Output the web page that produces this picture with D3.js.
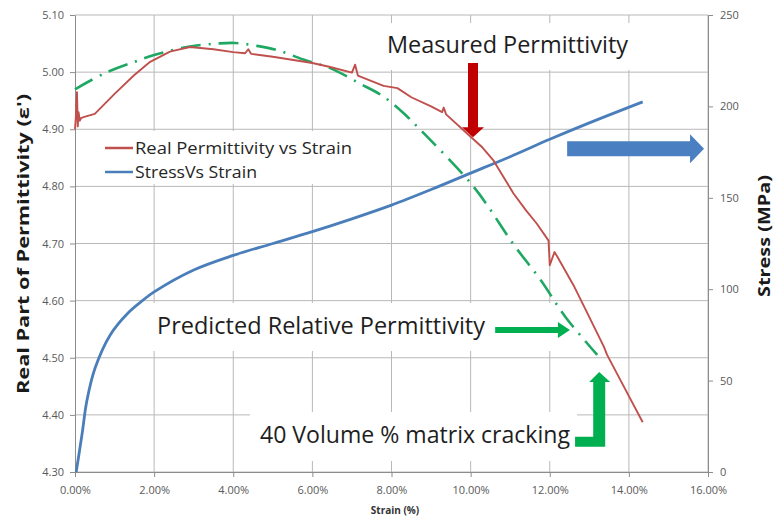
<!DOCTYPE html>
<html>
<head>
<meta charset="utf-8">
<script src="https://cdn.jsdelivr.net/npm/d3@7"></script>
<style>
  body { margin: 0; background: #fff; }
  svg { display: block; font-family: "Open Sans", sans-serif; }
</style>
</head>
<body>
<div id="chart"></div>
<script>
// measured permittivity (left axis)
const permStrain = [0, 0.02, 0.05, 0.07, 0.09, 0.12, 0.16, 0.3, 0.5, 1.0, 1.5, 1.9, 2.4, 2.9, 3.5, 4.0, 4.3, 4.38, 4.45, 5.0, 6.0, 6.45, 7.0, 7.08, 7.15, 7.8, 8.15, 8.5, 9.0, 9.28, 9.32, 9.38, 10.0, 10.3, 10.57, 10.8, 11.08, 11.4, 11.67, 11.97, 12.0, 12.12, 12.2, 12.6, 13.0, 13.37, 13.45, 13.9, 14.35];
const permValue = [4.90, 4.92, 4.965, 4.905, 4.93, 4.915, 4.92, 4.923, 4.927, 4.962, 4.995, 5.018, 5.036, 5.044, 5.040, 5.035, 5.033, 5.040, 5.032, 5.027, 5.016, 5.009, 4.999, 5.013, 4.994, 4.976, 4.972, 4.956, 4.940, 4.930, 4.938, 4.926, 4.887, 4.868, 4.846, 4.820, 4.788, 4.758, 4.735, 4.705, 4.662, 4.685, 4.676, 4.627, 4.571, 4.519, 4.505, 4.446, 4.387];

// predicted relative permittivity (left axis)
const predStrain = [0, 0.75, 1.5, 2, 2.9, 3.6, 4.05, 4.6, 5.14, 5.77, 6.45, 7.2, 7.8, 8.4, 8.73, 10.08, 11.1, 11.77, 12.4, 13.2];
const predValue = [4.97, 4.998, 5.018, 5.03, 5.045, 5.05, 5.051, 5.046, 5.038, 5.022, 5.007, 4.98, 4.957, 4.922, 4.899, 4.799, 4.697, 4.636, 4.571, 4.505];

// stress (right axis)
const stressStrain = [0.03, 0.18, 0.3, 0.51, 0.89, 1.34, 1.72, 2, 3, 4, 5, 6, 7, 8, 9, 10, 11, 12, 13, 14.35];
const stressValue = [0, 21, 39, 57, 75, 87, 94, 98.5, 110.5, 118.5, 125, 131.5, 138.5, 146, 154.5, 163.5, 172.5, 182, 191, 202.5];

const strainTicks = [0, 2, 4, 6, 8, 10, 12, 14, 16];
const permTicks = [4.3, 4.4, 4.5, 4.6, 4.7, 4.8, 4.9, 5.0, 5.1];
const stressTicks = [0, 50, 100, 150, 200, 250];
const legendLabels = ["Real Permittivity vs Strain", "StressVs Strain"];

const W = 780, H = 526;
const plot = { left: 75, right: 708, top: 15, bottom: 472 };

const svg = d3.select('#chart').append('svg')
  .attr('width', W)
  .attr('height', H);

const x = d3.scaleLinear().domain([0, 16]).range([plot.left, plot.right]);
const y = d3.scaleLinear().domain([4.3, 5.1]).range([plot.bottom, plot.top]);
const yS = d3.scaleLinear().domain([0, 250]).range([plot.bottom, plot.top]);

const gridColor = '#b8b8b8';
const axisColor = '#8c8c8c';
const labelColor = '#595959';

// gridlines
svg.append('g')
  .selectAll('line')
  .data(permTicks)
  .join('line')
  .attr('x1', plot.left).attr('x2', plot.right)
  .attr('y1', d => y(d)).attr('y2', d => y(d))
  .attr('stroke', gridColor).attr('stroke-width', 1);

svg.append('g')
  .selectAll('line')
  .data(strainTicks.slice(1))
  .join('line')
  .attr('x1', d => x(d)).attr('x2', d => x(d))
  .attr('y1', plot.top).attr('y2', plot.bottom)
  .attr('stroke', gridColor).attr('stroke-width', 1);

// axes
const styleAxis = g => {
  g.select('.domain').attr('stroke', axisColor);
  g.selectAll('.tick line').attr('stroke', axisColor);
  g.selectAll('.tick text')
    .attr('fill', labelColor)
    .attr('font-size', 11)
    .attr('font-family', '"Open Sans", sans-serif');
};

svg.append('g')
  .attr('transform', `translate(0, ${plot.bottom})`)
  .call(d3.axisBottom(x).tickValues(strainTicks).tickSize(5).tickSizeOuter(0)
    .tickFormat(d => d.toFixed(2) + '%'))
  .call(styleAxis)
  .call(g => g.selectAll('.tick text').attr('dy', '1.3em'));

svg.append('g')
  .attr('transform', `translate(${plot.left}, 0)`)
  .call(d3.axisLeft(y).tickValues(permTicks).tickSize(5).tickSizeOuter(0)
    .tickFormat(d3.format('.2f')))
  .call(styleAxis)
  .call(g => g.selectAll('.tick text').attr('x', -11));

svg.append('g')
  .attr('transform', `translate(${plot.right}, 0)`)
  .call(d3.axisRight(yS).tickValues(stressTicks).tickSize(5).tickSizeOuter(0))
  .call(styleAxis)
  .call(g => g.selectAll('.tick text').attr('x', 12));

// axis titles
svg.append('text')
  .attr('transform', `translate(29, 244) rotate(-90)`)
  .attr('text-anchor', 'middle')
  .attr('font-size', 16)
  .attr('font-weight', 'bold')
  .attr('fill', '#1a1a1a')
  .attr('textLength', 300)
  .attr('lengthAdjust', 'spacingAndGlyphs')
  .text("Real Part of Permittivity (ε')");

svg.append('text')
  .attr('transform', `translate(770, 236) rotate(-90)`)
  .attr('text-anchor', 'middle')
  .attr('font-size', 16)
  .attr('font-weight', 'bold')
  .attr('fill', '#1a1a1a')
  .attr('textLength', 122)
  .attr('lengthAdjust', 'spacingAndGlyphs')
  .text('Stress (MPa)');

svg.append('text')
  .attr('x', 395)
  .attr('y', 514)
  .attr('text-anchor', 'middle')
  .attr('font-size', 10)
  .attr('font-weight', 'bold')
  .attr('fill', '#333')
  .text('Strain (%)');

// series
const permData = permStrain.map((s, i) => [s, permValue[i]]);
const predData = predStrain.map((s, i) => [s, predValue[i]]);
const stressData = stressStrain.map((s, i) => [s, stressValue[i]]);

const permLine = d3.line().x(d => x(d[0])).y(d => y(d[1]));
const predLine = d3.line().curve(d3.curveCatmullRom).x(d => x(d[0])).y(d => y(d[1]));
const stressLine = d3.line().curve(d3.curveCatmullRom.alpha(0.5)).x(d => x(d[0])).y(d => yS(d[1]));

svg.append('path')
  .datum(stressData)
  .attr('fill', 'none')
  .attr('stroke', '#4a7ebb')
  .attr('stroke-width', 2.8)
  .attr('d', stressLine);

svg.append('path')
  .datum(predData)
  .attr('fill', 'none')
  .attr('stroke', '#1fa862')
  .attr('stroke-width', 2.6)
  .attr('stroke-dasharray', '20 8 2 8')
  .attr('d', predLine);

svg.append('path')
  .datum(permData)
  .attr('fill', 'none')
  .attr('stroke', '#c0504d')
  .attr('stroke-width', 1.9)
  .attr('stroke-linejoin', 'round')
  .attr('d', permLine);

// legend (white box over the grid)
const legendWidths = [217, 122];
const legend = svg.append('g').attr('transform', 'translate(100, 131)');
legend.append('rect').attr('width', 262).attr('height', 53).attr('fill', '#fff');
legendLabels.forEach((label, i) => {
  const row = legend.append('g').attr('transform', `translate(0, ${17 + i * 24})`);
  row.append('line')
    .attr('x1', 5).attr('x2', 33)
    .attr('stroke', i === 0 ? '#c0504d' : '#4a7ebb')
    .attr('stroke-width', 2.5);
  row.append('text')
    .attr('x', 35).attr('dy', '0.35em')
    .attr('font-size', 17)
    .attr('fill', '#262626')
    .attr('textLength', legendWidths[i])
    .attr('lengthAdjust', 'spacingAndGlyphs')
    .text(label);
});

// text boxes
const notes = [
  { text: 'Measured Permittivity', box: [382, 23, 258, 47], tx: 387, ty: 53, len: 241 },
  { text: 'Predicted Relative Permittivity', box: [148, 303, 404, 48], tx: 157, ty: 334, len: 328 },
  { text: '40 Volume % matrix cracking', box: [250, 412, 327, 49], tx: 260, ty: 443, len: 310 }
];
notes.forEach(n => {
  svg.append('rect')
    .attr('x', n.box[0]).attr('y', n.box[1])
    .attr('width', n.box[2]).attr('height', n.box[3])
    .attr('fill', '#fff');
  svg.append('text')
    .attr('x', n.tx).attr('y', n.ty)
    .attr('font-size', 23)
    .attr('fill', '#1e1e1e')
    .attr('textLength', n.len)
    .attr('lengthAdjust', 'spacingAndGlyphs')
    .text(n.text);
});

// arrows
const arrow = (pts, color) => svg.append('path')
  .attr('d', d3.line()(pts) + 'Z')
  .attr('fill', color);

// red, down onto the measured curve
{
  const cx = x(10.06), tip = y(4.886), top = y(5.016);
  arrow([[cx - 5, top], [cx + 5, top], [cx + 5, tip - 10], [cx + 11, tip - 10], [cx, tip],
    [cx - 11, tip - 10], [cx - 5, tip - 10]], '#c00000');
}
// blue, toward the stress axis
{
  const cy = yS(176.8), x0 = x(12.44), tip = x(15.9);
  arrow([[x0, cy - 7.5], [tip - 14, cy - 7.5], [tip - 14, cy - 14.5], [tip, cy],
    [tip - 14, cy + 14.5], [tip - 14, cy + 7.5], [x0, cy + 7.5]], '#4a7fc1');
}
// green, onto the predicted curve
{
  const cy = y(4.5486), x0 = x(10.62), tip = x(12.51);
  arrow([[x0, cy - 3], [tip - 12, cy - 3], [tip - 12, cy - 8], [tip, cy],
    [tip - 12, cy + 8], [tip - 12, cy + 3], [x0, cy + 3]], '#00b050');
}
// green L-shaped, up from the cracking label
{
  const cx = x(13.25), tip = y(4.475), base = y(4.344);
  arrow([[x(12.64), base - 10], [cx - 6, base - 10], [cx - 6, tip + 10], [cx - 10, tip + 10],
    [cx, tip], [cx + 11, tip + 10], [cx + 6, tip + 10], [cx + 6, base], [x(12.64), base]], '#00b050');
}
</script>
</body>
</html>
